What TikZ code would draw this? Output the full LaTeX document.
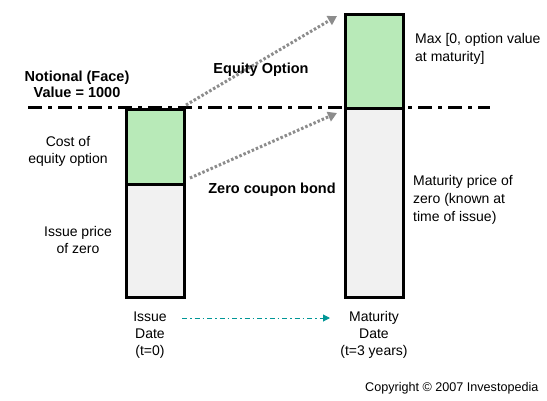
\documentclass[tikz,border=0pt]{standalone}
\usepackage{fontspec}
\setmainfont{Liberation Sans}
\usetikzlibrary{arrows.meta,calc}
\definecolor{optgreen}{RGB}{184,234,184}
\definecolor{zerogray}{RGB}{241,241,241}
\definecolor{dotgray}{RGB}{140,140,140}
\definecolor{tealline}{RGB}{0,150,150}
\tikzset{
  barpart/.style={draw=black,line width=2.6pt,minimum width=58pt,inner sep=0pt,anchor=north west},
  lbl/.style={font=\fontsize{14}{17}\selectfont,align=center,inner sep=0pt},
  lbll/.style={font=\fontsize{14}{18}\selectfont,align=left,inner sep=0pt,anchor=west},
  blbl/.style={font=\fontsize{14.5}{16}\selectfont\bfseries,align=center,inner sep=0pt},
  facel/.style={draw=black,line width=3pt,dash pattern=on 14pt off 6pt on 4pt off 6pt},
  grayarrow/.style={draw=dotgray,line width=3pt,dash pattern=on 2.5pt off 2pt,-{Triangle[length=9pt,width=10pt]}},
  timearrow/.style={draw=tealline,line width=1pt,dash pattern=on 5pt off 3pt on 1.5pt off 3pt,-{Triangle[length=7pt,width=7pt]}}
}
\begin{document}
\begin{tikzpicture}[x=1pt,y=-1pt]
\useasboundingbox[fill=white] (0,0) rectangle (547,400);
% face value line
\coordinate (faceL) at (28,107);
\coordinate (faceR) at (490,107);
\draw[facel] (faceL) -- (faceR);
% bars
\node[barpart,fill=optgreen,minimum height=75pt] (lopt) at (125,108) {};
\node[barpart,fill=zerogray,minimum height=113pt] (lzero) at (125,183) {};
\node[barpart,fill=zerogray,minimum height=189pt] (rzero) at (344,107) {};
\node[barpart,fill=optgreen,minimum height=94pt] (ropt) at (344,13) {};
% arrows
\coordinate (a1s) at (186,105);
\coordinate (a1e) at (337,16);
\coordinate (a2s) at (190,178);
\coordinate (a2e) at (337,113);
\draw[grayarrow] (a1s) -- (a1e);
\draw[grayarrow] (a2s) -- (a2e);
% labels
\node[blbl] (face) at (77,84) {Notional (Face)\\Value = 1000};
\node[blbl] (eqopt) at (261,70) {Equity Option};
\node[blbl] (zcb) at (272,190) {Zero coupon bond};
\node[lbl] (cost) at (68,151) {Cost of\\equity option};
\node[lbl] (issue) at (78,240) {Issue price\\of zero};
\node[lbll] (maxl) at (415,49) {Max [0, option value\\at maturity]};
\node[lbll] (matp) at (413,200) {Maturity price of\\zero (known at\\time of issue)};
\node[lbl] (idate) at (150,335) {Issue\\Date\\(t=0)};
\node[lbl] (mdate) at (374,335) {Maturity\\Date\\(t=3 years)};
\coordinate (ts) at (182,318);
\coordinate (te) at (330,318);
\draw[timearrow] (ts) -- (te);
\node[font=\fontsize{12.6}{14}\selectfont,anchor=west,inner sep=0pt] (copy) at (365,388) {Copyright © 2007 Investopedia};
\end{tikzpicture}
\end{document}
